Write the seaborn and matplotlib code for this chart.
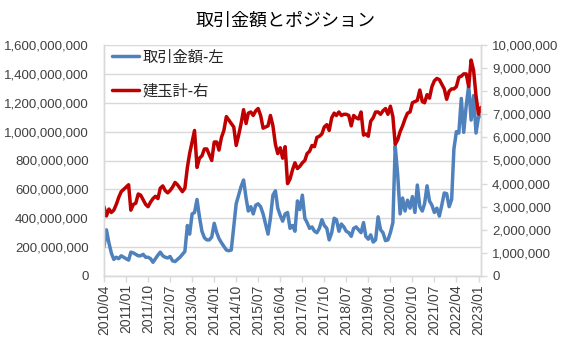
import pandas as pd
import matplotlib
matplotlib.use("Agg")
import matplotlib.pyplot as plt
import matplotlib.ticker as mticker
import seaborn as sns

# monthly data, 2010/04 .. 2023/02
start_month = "2010-04-01"
tick_step = 9

# 取引金額 (million yen) - left axis
trade_amount_m = [
    200, 320, 230, 160, 115, 130, 120, 140, 130, 120,
    110, 165, 160, 150, 140, 140, 150, 130, 130, 120,
    95, 120, 145, 165, 140, 130, 125, 135, 105, 100,
    115, 130, 150, 170, 350, 290, 430, 440, 530, 410,
    310, 265, 250, 250, 270, 365, 300, 260, 230, 205,
    180, 175, 180, 340, 500, 560, 620, 665, 540, 450,
    480, 430, 490, 500, 480, 430, 360, 290, 400, 560,
    590, 470, 420, 380, 430, 440, 330, 350, 310, 520,
    460, 560, 400, 370, 330, 340, 310, 300, 330, 390,
    350, 330, 250, 300, 400, 390, 310, 360, 340, 310,
    300, 275, 330, 340, 320, 300, 370, 275, 255, 285,
    235, 250, 410, 320, 300, 245, 250, 300, 370, 900,
    700, 430, 540, 450, 525, 470, 550, 440, 630, 480,
    450, 500, 625, 520, 490, 440, 470, 415, 490, 575,
    570, 480, 530, 880, 1000, 990, 1230, 995, 1180, 1320,
    1080, 1250, 990, 1100, 1110,
]

# 建玉計 (million) - right axis
position_m = [
    3.0, 2.6, 2.9, 2.75, 2.85, 3.1, 3.4, 3.65, 3.75, 3.85,
    3.95, 2.85, 3.1, 3.15, 3.55, 3.5, 3.3, 3.1, 3.0, 3.2,
    3.35, 3.45, 3.35, 3.8, 3.9, 3.7, 3.6, 3.7, 3.85, 4.05,
    3.95, 3.8, 3.65, 3.8, 4.7, 5.3, 5.8, 6.3, 4.7, 5.1,
    5.2, 5.5, 5.5, 5.25, 5.0, 5.8, 5.8, 5.45, 6.0, 6.3,
    6.9, 6.75, 6.6, 6.45, 5.65, 6.1, 6.6, 7.2, 6.6, 7.05,
    7.1, 6.95, 7.15, 7.25, 6.95, 6.4, 6.45, 6.5, 6.95, 6.5,
    5.7, 5.3, 5.55, 5.1, 5.6, 4.0, 4.2, 4.6, 4.9, 4.65,
    4.75, 4.9, 5.0, 5.3, 5.4, 5.65, 5.6, 6.0, 6.05, 6.15,
    6.45, 6.55, 6.3, 6.85, 7.05, 6.95, 7.1, 6.95, 7.0, 7.0,
    6.95, 6.5, 6.95, 6.85, 6.8, 7.1, 6.1, 6.15, 6.05, 6.7,
    6.85, 7.1, 7.1, 7.0, 7.15, 7.25, 7.0, 7.35, 6.9, 5.7,
    5.9, 6.25, 6.5, 6.8, 7.05, 7.1, 7.5, 7.55, 7.6, 8.05,
    7.55, 7.5, 7.85, 7.7, 8.2, 8.45, 8.55, 8.5, 8.3, 8.1,
    7.65, 8.0, 8.1, 8.1, 8.2, 8.6, 8.65, 8.75, 8.75, 8.2,
    9.35, 8.9, 7.8, 7.0, 7.3,
]

title = "取引金額とポジション"
label_left = "取引金額-左"
label_right = "建玉計-右"

months = pd.date_range(start_month, periods=len(trade_amount_m), freq="MS")
df = pd.DataFrame({
    "month": months,
    "trade": [v * 1e6 for v in trade_amount_m],
    "position": [v * 1e6 for v in position_m],
})

sns.set_theme(style="white")
plt.rcParams["font.family"] = ["Liberation Sans", "Noto Sans CJK JP", "DejaVu Sans"]
cjk = ["Noto Sans CJK JP", "DejaVu Sans"]

fig = plt.figure(figsize=(5.67, 3.5), dpi=100)
ax = fig.add_axes([104 / 567, 1 - 276 / 350, 377 / 567, 231 / 350])
ax2 = ax.twinx()

sns.lineplot(data=df, x="month", y="trade", ax=ax, color="#4F81BD",
             linewidth=2.5, label=label_left, legend=False)
sns.lineplot(data=df, x="month", y="position", ax=ax2, color="#C00000",
             linewidth=2.5, label=label_right, legend=False)

ax.set_xlim(months[0], months[-1])
ax.set_ylim(0, 1.6e9)
ax.yaxis.set_major_locator(mticker.MultipleLocator(2e8))
ax.yaxis.set_major_formatter(mticker.FuncFormatter(lambda v, p: f"{v:,.0f}"))
ax2.set_ylim(0, 1e7)
ax2.yaxis.set_major_locator(mticker.MultipleLocator(1e6))
ax2.yaxis.set_major_formatter(mticker.FuncFormatter(lambda v, p: f"{v:,.0f}"))

tick_months = months[::tick_step]
ax.set_xticks(tick_months)
ax.set_xticklabels([d.strftime("%Y/%m") for d in tick_months], rotation=90)

ax.grid(axis="y", color="#D9D9D9", linewidth=1)
ax.set_axisbelow(True)
ax.set_xlabel("")
ax.set_ylabel("")
ax2.set_ylabel("")

for a in (ax, ax2):
    for s in a.spines.values():
        s.set_color("#D9D9D9")
        s.set_linewidth(1)
    a.spines["top"].set_visible(False)

ax.tick_params(axis="x", bottom=True, length=4, width=1, color="#D9D9D9",
               labelsize=10, labelcolor="#404040", pad=2)
ax.tick_params(axis="y", left=False, labelsize=9.5, labelcolor="#404040", pad=5)
ax2.tick_params(axis="y", right=True, length=4, width=1, color="#D9D9D9",
                labelsize=9.5, labelcolor="#404040", pad=4)

fig.text(286 / 567, 1 - 21 / 350, title, ha="center", va="center",
         fontsize=13, family=cjk, color="#000000")

h1, l1 = ax.get_legend_handles_labels()
h2, l2 = ax2.get_legend_handles_labels()
ax2.legend(h1 + h2, l1 + l2, loc="upper left", bbox_to_anchor=(0.02, 0.985),
           frameon=False, prop={"family": cjk, "size": 11},
           handlelength=1.8, handletextpad=0.2, labelspacing=1.1,
           borderpad=0, borderaxespad=0)

fig.savefig("out.png", dpi=100)
plt.close(fig)
